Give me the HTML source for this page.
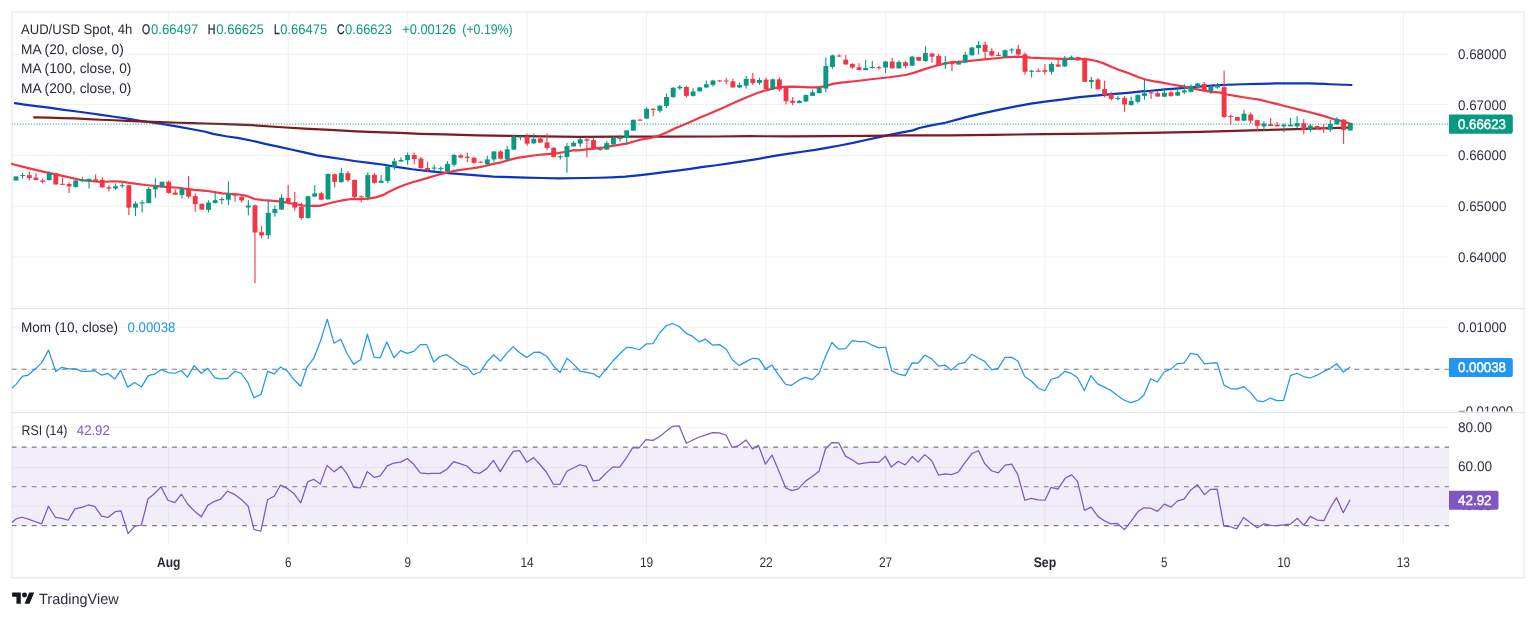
<!DOCTYPE html>
<html><head><meta charset="utf-8"><title>AUD/USD 4h</title>
<style>html,body{margin:0;padding:0;background:#fff}body{width:1536px;height:618px;position:relative;overflow:hidden;font-family:"Liberation Sans",sans-serif}</style></head>
<body>
<svg width="1536" height="618" viewBox="0 0 1536 618" style="position:absolute;left:0;top:0;font-family:'Liberation Sans',sans-serif">
<style>text{text-rendering:geometricPrecision}</style>
<rect width="1536" height="618" fill="#fff"/>
<rect x="12" y="447.1" width="1437" height="78.5" fill="#7E57C2" fill-opacity="0.105"/>
<g stroke="#2A2E39" stroke-opacity="0.065" stroke-width="1">
<line x1="168.67" y1="12" x2="168.67" y2="545"/>
<line x1="288.16" y1="12" x2="288.16" y2="545"/>
<line x1="407.64" y1="12" x2="407.64" y2="545"/>
<line x1="527.13" y1="12" x2="527.13" y2="545"/>
<line x1="646.61" y1="12" x2="646.61" y2="545"/>
<line x1="766.09" y1="12" x2="766.09" y2="545"/>
<line x1="885.58" y1="12" x2="885.58" y2="545"/>
<line x1="1044.89" y1="12" x2="1044.89" y2="545"/>
<line x1="1164.37" y1="12" x2="1164.37" y2="545"/>
<line x1="1283.86" y1="12" x2="1283.86" y2="545"/>
<line x1="1403.34" y1="12" x2="1403.34" y2="545"/>
<line x1="12" y1="54.4" x2="1449" y2="54.4"/>
<line x1="12" y1="104.5" x2="1449" y2="104.5"/>
<line x1="12" y1="155.3" x2="1449" y2="155.3"/>
<line x1="12" y1="206.1" x2="1449" y2="206.1"/>
<line x1="12" y1="257" x2="1449" y2="257"/>
<line x1="12" y1="327.3" x2="1449" y2="327.3"/>
<line x1="12" y1="369.2" x2="1449" y2="369.2"/>
<line x1="12" y1="427.5" x2="1449" y2="427.5"/>
<line x1="12" y1="467.5" x2="1449" y2="467.5"/>
<line x1="12" y1="506" x2="1449" y2="506"/>
</g>
<g stroke="#E0E3EB" stroke-width="1" fill="none">
<line x1="12" y1="308.5" x2="1524" y2="308.5"/>
<line x1="12" y1="412.5" x2="1524" y2="412.5"/>
<rect x="12" y="12" width="1512" height="565.8"/>
</g>
<g fill="none" stroke-linejoin="round" stroke-linecap="round" stroke-width="2.2">
<polyline stroke="#0A35C2" points="14.95,103.07 23.02,104.38 36.04,106.07 49.06,107.63 62.08,109.58 75.1,111.28 88.12,112.97 101.15,114.92 114.17,116.74 127.19,118.7 140.21,120.78 153.23,122.73 166.25,124.69 179.27,126.9 192.29,129.24 205.31,131.72 213.02,133.88 226.04,136.22 239.06,138.18 252.08,140.78 265.1,143.91 278.12,146.64 291.15,149.51 304.17,152.37 317.19,155.36 330.21,157.32 343.23,159.27 356.25,161.22 369.27,162.92 382.29,164.48 396.18,166.83 412.36,169.26 428.54,171.2 444.72,172.82 460.91,174.11 477.09,175.4 493.27,176.54 509.45,177.18 525.63,177.67 541.81,177.99 557.99,178.32 586.04,177.99 599.06,177.73 612.08,177.34 625.1,176.69 638.12,175.39 651.15,173.83 664.17,172.14 677.19,170.57 690.21,168.88 703.23,166.93 716.25,165.23 729.27,163.41 742.29,161.46 755.31,159.38 776.04,155.62 789.06,153.67 802.08,151.72 815.1,149.9 828.12,147.55 841.15,145.21 854.17,142.6 867.19,139.74 880.21,136.88 893.23,134.14 906.25,131.67 912.76,130.36 919.27,128.02 932.29,125.16 945.31,122.81 966.18,117.09 982.36,113.37 998.54,109.81 1014.72,106.57 1030.91,103.66 1047.09,101.39 1063.27,99.29 1079.45,97.18 1095.63,95.57 1111.81,94.11 1127.99,92.82 1144.17,91.2 1146.18,91.23 1162.36,89.61 1178.54,88.32 1194.72,87.02 1210.91,85.57 1227.09,84.76 1243.27,84.27 1259.45,83.79 1275.63,83.46 1291.81,83.3 1307.99,83.46 1324.17,83.95 1330,84.27 1351.5,85"/>
<polyline stroke="#801922" points="34.09,117.4 49.06,117.66 62.08,118.18 75.1,118.44 88.12,119.09 101.15,119.74 114.17,120.26 127.19,120.78 140.21,121.43 153.23,121.95 166.25,122.34 179.27,122.73 192.29,123.12 205.31,123.52 226.04,124.11 252.08,125.16 278.12,126.98 304.17,128.67 330.21,129.97 356.25,131.28 382.29,132.32 400,132.84 420.45,133.82 444.72,134.47 477.09,135.28 509.45,135.92 541.81,136.41 580,136.89 618.54,136.67 667.09,136.67 715.63,136.5 750,136.22 789.06,136.35 828.12,136.22 867.19,135.83 906.25,135.44 950,135.31 992,134.8 1044,134.2 1096,133.6 1148,132.9 1200,131.9 1252,130.4 1304,128.8 1340,127.8 1351.5,127.5"/>
<polyline stroke="#F23645" points="12,163.8 12.94,164.27 32.36,169.13 48.54,172.85 64.72,176.41 80.91,179.97 97.09,181.75 105.18,181.75 113.27,181.26 121.36,181.59 129.45,182.88 145.63,184.98 161.81,186.6 177.99,187.73 194.17,189.84 206.18,190.78 222.36,193.37 238.54,194.5 246.63,195.79 254.72,199.03 262.82,200.16 270.91,200.65 279,201.46 287.09,202.59 295.18,204.21 303.27,205.5 311.36,205.83 319.45,205.83 327.54,203.72 335.63,201.78 343.72,200.16 351.81,199.03 359.9,199.03 367.99,198.54 376.08,197.41 384.17,194.5 388.09,192.23 396.18,188.19 404.27,184.95 412.36,182.2 420.45,180.1 428.54,177.67 436.63,175.24 444.72,173.14 452.82,171.2 460.91,169.9 469,168.77 477.09,167.64 485.18,166.02 493.27,163.92 501.36,162.3 509.45,159.87 517.54,157.93 525.63,156.63 533.72,155.5 541.81,154.53 549.9,153.88 557.99,153.07 566.08,151.78 574.17,150.16 578.09,150.42 586.18,149.29 602.36,147.67 618.54,144.92 626.63,143.62 634.72,141.2 642.82,139.26 650.91,137.96 659,135.53 667.09,132.3 675.18,128.25 683.27,125.02 691.36,121.46 699.45,117.73 707.54,114.5 715.63,110.94 723.72,107.54 731.81,103.66 739.9,100.26 747.99,96.7 756.08,93.46 764.17,90.71 768.09,89.87 776.18,87.93 784.27,86.8 792.36,86.63 800.45,86.96 808.54,87.28 816.63,87.44 824.72,86.31 832.82,83.88 840.91,82.59 857.09,80.97 873.27,79.03 889.45,77.25 905.63,74.98 913.72,72.88 921.81,70.13 929.9,67.54 937.99,65.28 946.08,63.17 954.17,61.88 958.09,62.07 966.18,61.26 982.36,59.64 998.54,58.03 1006.63,57.22 1014.72,56.89 1022.82,56.89 1030.91,57.54 1047.09,58.35 1063.27,58.83 1079.45,58.83 1087.54,59.32 1095.63,60.78 1103.72,63.37 1111.81,66.93 1119.9,70.16 1127.99,73.07 1136.08,76.15 1138.09,76.99 1146.18,79.74 1154.27,81.36 1162.36,82.65 1170.45,84.27 1178.54,85.57 1186.63,87.18 1194.72,88.8 1202.82,90.42 1210.91,91.88 1219,92.36 1227.09,94.47 1235.18,95.92 1243.27,97.22 1251.36,98.51 1259.45,99.64 1267.54,101.75 1275.63,103.69 1283.72,105.79 1291.81,107.73 1299.9,109.84 1307.99,111.78 1316.08,113.88 1324.17,116.15 1332.36,118.8 1340.45,120.74 1348.54,123.17 1351.78,123.98"/>
</g>
<line x1="12" y1="124.2" x2="1449" y2="124.2" stroke="#089981" stroke-width="1.3" stroke-opacity="0.82" stroke-dasharray="1.05 1.7" stroke-dashoffset="0.4"/>
<g fill="#089981"><rect x="15.45" y="176.41" width="1.1" height="4.05"/><rect x="22.09" y="172.85" width="1.1" height="5.66"/><rect x="48.64" y="171.55" width="1.1" height="8.9"/><rect x="75.19" y="180.13" width="1.1" height="7.61"/><rect x="81.83" y="177.22" width="1.1" height="4.53"/><rect x="88.47" y="178.83" width="1.1" height="9.71"/><rect x="115.02" y="183.37" width="1.1" height="6.47"/><rect x="121.66" y="182.88" width="1.1" height="5.18"/><rect x="134.93" y="201.49" width="1.1" height="14.56"/><rect x="141.57" y="200.19" width="1.1" height="12.3"/><rect x="148.21" y="186.93" width="1.1" height="16.18"/><rect x="154.85" y="178.03" width="1.1" height="19.9"/><rect x="161.49" y="181.75" width="1.1" height="4.85"/><rect x="181.4" y="187.25" width="1.1" height="11.33"/><rect x="207.95" y="200.16" width="1.1" height="12.14"/><rect x="214.59" y="192.39" width="1.1" height="11"/><rect x="221.23" y="196.93" width="1.1" height="7.28"/><rect x="227.87" y="181.23" width="1.1" height="23.79"/><rect x="247.78" y="200.16" width="1.1" height="15.05"/><rect x="267.69" y="200.16" width="1.1" height="38.83"/><rect x="274.33" y="205.34" width="1.1" height="11.33"/><rect x="280.97" y="194.17" width="1.1" height="15.7"/><rect x="307.52" y="195.79" width="1.1" height="22.98"/><rect x="314.16" y="185.11" width="1.1" height="11.81"/><rect x="327.44" y="173.46" width="1.1" height="26.21"/><rect x="340.71" y="167.8" width="1.1" height="15.05"/><rect x="367.26" y="172.33" width="1.1" height="28.16"/><rect x="380.54" y="175.08" width="1.1" height="7.77"/><rect x="387.18" y="165.53" width="1.1" height="17.48"/><rect x="393.82" y="158.25" width="1.1" height="11.33"/><rect x="400.45" y="157.44" width="1.1" height="4.37"/><rect x="407.09" y="152.59" width="1.1" height="12.14"/><rect x="433.64" y="164.72" width="1.1" height="6.47"/><rect x="440.28" y="166.34" width="1.1" height="4.85"/><rect x="446.92" y="161.17" width="1.1" height="10.84"/><rect x="453.56" y="153.88" width="1.1" height="12.78"/><rect x="486.75" y="155.83" width="1.1" height="10.03"/><rect x="493.39" y="150.97" width="1.1" height="11.33"/><rect x="506.66" y="145.79" width="1.1" height="14.89"/><rect x="513.3" y="135.28" width="1.1" height="14.56"/><rect x="519.94" y="135.92" width="1.1" height="4.21"/><rect x="533.21" y="133.66" width="1.1" height="10.03"/><rect x="559.77" y="154.53" width="1.1" height="5.02"/><rect x="566.4" y="142.88" width="1.1" height="29.94"/><rect x="573.04" y="141.2" width="1.1" height="5.18"/><rect x="579.68" y="137.96" width="1.1" height="9.39"/><rect x="599.59" y="147.99" width="1.1" height="2.91"/><rect x="606.23" y="141.2" width="1.1" height="8.58"/><rect x="612.87" y="136.34" width="1.1" height="8.41"/><rect x="619.51" y="134.72" width="1.1" height="6.96"/><rect x="626.15" y="130.19" width="1.1" height="13.43"/><rect x="632.78" y="119.35" width="1.1" height="11.33"/><rect x="646.06" y="107.22" width="1.1" height="11.65"/><rect x="659.34" y="105.28" width="1.1" height="7.28"/><rect x="665.97" y="93.46" width="1.1" height="14.56"/><rect x="672.61" y="86.99" width="1.1" height="10.52"/><rect x="679.25" y="84.89" width="1.1" height="5.02"/><rect x="692.53" y="88.12" width="1.1" height="8.58"/><rect x="699.16" y="87.31" width="1.1" height="4.05"/><rect x="705.8" y="80.52" width="1.1" height="7.28"/><rect x="712.44" y="79.71" width="1.1" height="6.96"/><rect x="738.99" y="82.46" width="1.1" height="5.34"/><rect x="745.63" y="75.99" width="1.1" height="12.62"/><rect x="758.91" y="77.77" width="1.1" height="7.12"/><rect x="772.18" y="78.54" width="1.1" height="11"/><rect x="798.73" y="99.9" width="1.1" height="3.24"/><rect x="805.37" y="94.4" width="1.1" height="7.28"/><rect x="812.01" y="89.55" width="1.1" height="6.31"/><rect x="818.65" y="86.96" width="1.1" height="6.47"/><rect x="825.29" y="57.51" width="1.1" height="34.79"/><rect x="831.92" y="54.6" width="1.1" height="14.24"/><rect x="865.11" y="59.94" width="1.1" height="10.19"/><rect x="871.75" y="61.07" width="1.1" height="7.28"/><rect x="885.03" y="61.07" width="1.1" height="11.81"/><rect x="898.3" y="60.26" width="1.1" height="8.25"/><rect x="911.58" y="55.89" width="1.1" height="10.03"/><rect x="924.86" y="46.18" width="1.1" height="15.7"/><rect x="944.77" y="55.89" width="1.1" height="12.94"/><rect x="958.05" y="60.13" width="1.1" height="4.37"/><rect x="964.68" y="52.04" width="1.1" height="10.84"/><rect x="971.32" y="46.7" width="1.1" height="8.9"/><rect x="977.96" y="41.04" width="1.1" height="13.43"/><rect x="1004.51" y="49.45" width="1.1" height="8.58"/><rect x="1011.15" y="47.83" width="1.1" height="5.83"/><rect x="1031.06" y="69.84" width="1.1" height="7.61"/><rect x="1050.98" y="62.07" width="1.1" height="12.62"/><rect x="1064.25" y="55.92" width="1.1" height="11"/><rect x="1070.89" y="55.6" width="1.1" height="4.53"/><rect x="1090.81" y="76.96" width="1.1" height="11.49"/><rect x="1117.36" y="96.05" width="1.1" height="4.37"/><rect x="1130.63" y="96.54" width="1.1" height="9.22"/><rect x="1137.27" y="93.98" width="1.1" height="9.39"/><rect x="1143.91" y="79.42" width="1.1" height="20.23"/><rect x="1163.82" y="88.32" width="1.1" height="8.58"/><rect x="1177.1" y="88.32" width="1.1" height="7.61"/><rect x="1183.74" y="84.27" width="1.1" height="10.03"/><rect x="1190.38" y="84.27" width="1.1" height="8.09"/><rect x="1197.01" y="83.14" width="1.1" height="3.88"/><rect x="1210.29" y="85.57" width="1.1" height="8.41"/><rect x="1216.93" y="82.98" width="1.1" height="5.83"/><rect x="1243.48" y="109.84" width="1.1" height="11.17"/><rect x="1263.39" y="121.17" width="1.1" height="9.71"/><rect x="1283.31" y="123.59" width="1.1" height="8.74"/><rect x="1289.95" y="117.93" width="1.1" height="8.41"/><rect x="1296.58" y="116.15" width="1.1" height="12.3"/><rect x="1309.86" y="123.98" width="1.1" height="7.77"/><rect x="1329.77" y="119.94" width="1.1" height="11.81"/><rect x="1336.41" y="117.18" width="1.1" height="7.61"/><rect x="1349.69" y="123.17" width="1.1" height="7.28"/><rect x="13.55" y="176.41" width="4.9" height="4.05"/><rect x="20.19" y="175.02" width="4.9" height="1"/><rect x="46.74" y="173.17" width="4.9" height="6.96"/><rect x="73.29" y="180.45" width="4.9" height="6.47"/><rect x="79.93" y="179.81" width="4.9" height="1.46"/><rect x="86.57" y="178.83" width="4.9" height="2.75"/><rect x="113.12" y="186.28" width="4.9" height="2.27"/><rect x="119.76" y="185.21" width="4.9" height="1"/><rect x="133.03" y="203.59" width="4.9" height="4.05"/><rect x="139.67" y="202.3" width="4.9" height="1.13"/><rect x="146.31" y="189.03" width="4.9" height="14.08"/><rect x="152.95" y="186.44" width="4.9" height="2.91"/><rect x="159.59" y="181.75" width="4.9" height="4.85"/><rect x="179.5" y="189.03" width="4.9" height="5.99"/><rect x="206.05" y="202.59" width="4.9" height="7.28"/><rect x="212.69" y="200.16" width="4.9" height="2.91"/><rect x="219.33" y="199.03" width="4.9" height="1.13"/><rect x="225.97" y="193.37" width="4.9" height="6.31"/><rect x="245.88" y="205.5" width="4.9" height="1.94"/><rect x="265.79" y="212.78" width="4.9" height="22.49"/><rect x="272.43" y="209.06" width="4.9" height="4.05"/><rect x="279.07" y="197.73" width="4.9" height="11.81"/><rect x="305.62" y="196.28" width="4.9" height="21.68"/><rect x="312.26" y="193.37" width="4.9" height="3.24"/><rect x="325.54" y="173.95" width="4.9" height="25.4"/><rect x="338.81" y="173.14" width="4.9" height="8.9"/><rect x="365.36" y="175.08" width="4.9" height="22.17"/><rect x="378.64" y="180.74" width="4.9" height="2.1"/><rect x="385.28" y="166.34" width="4.9" height="14.56"/><rect x="391.92" y="161.17" width="4.9" height="5.66"/><rect x="398.55" y="159.87" width="4.9" height="1.62"/><rect x="405.19" y="155.02" width="4.9" height="5.18"/><rect x="431.74" y="167.54" width="4.9" height="1"/><rect x="438.38" y="167.95" width="4.9" height="1"/><rect x="445.02" y="163.92" width="4.9" height="7.77"/><rect x="451.66" y="155.02" width="4.9" height="9.71"/><rect x="484.85" y="159.39" width="4.9" height="4.85"/><rect x="491.49" y="151.46" width="4.9" height="7.93"/><rect x="504.76" y="149.35" width="4.9" height="10.03"/><rect x="511.4" y="136.41" width="4.9" height="13.27"/><rect x="518.04" y="136.56" width="4.9" height="1"/><rect x="531.31" y="138.83" width="4.9" height="4.53"/><rect x="557.87" y="156.3" width="4.9" height="1"/><rect x="564.5" y="146.12" width="4.9" height="10.84"/><rect x="571.14" y="142.82" width="4.9" height="3.56"/><rect x="577.78" y="139.26" width="4.9" height="4.37"/><rect x="597.69" y="148.87" width="4.9" height="1"/><rect x="604.33" y="143.14" width="4.9" height="6.47"/><rect x="610.97" y="137.96" width="4.9" height="6.47"/><rect x="617.61" y="137.95" width="4.9" height="1"/><rect x="624.25" y="130.36" width="4.9" height="7.61"/><rect x="630.88" y="119.84" width="4.9" height="10.84"/><rect x="644.16" y="108.83" width="4.9" height="9.71"/><rect x="657.44" y="105.6" width="4.9" height="5.18"/><rect x="664.07" y="97.02" width="4.9" height="8.9"/><rect x="670.71" y="87.8" width="4.9" height="9.39"/><rect x="677.35" y="86.67" width="4.9" height="1.62"/><rect x="690.63" y="91.52" width="4.9" height="4.37"/><rect x="697.26" y="87.31" width="4.9" height="4.05"/><rect x="703.9" y="84.24" width="4.9" height="3.24"/><rect x="710.54" y="80.52" width="4.9" height="4.37"/><rect x="737.09" y="85.05" width="4.9" height="2.43"/><rect x="743.73" y="78.9" width="4.9" height="6.8"/><rect x="757.01" y="80.03" width="4.9" height="2.91"/><rect x="770.28" y="79.35" width="4.9" height="9.71"/><rect x="796.83" y="100.87" width="4.9" height="2.27"/><rect x="803.47" y="95.05" width="4.9" height="6.47"/><rect x="810.11" y="92.3" width="4.9" height="3.56"/><rect x="816.75" y="87.93" width="4.9" height="5.18"/><rect x="823.39" y="65.92" width="4.9" height="22.65"/><rect x="830.02" y="55.4" width="4.9" height="11.49"/><rect x="863.21" y="68.03" width="4.9" height="2.1"/><rect x="869.85" y="66.89" width="4.9" height="1.13"/><rect x="883.13" y="61.55" width="4.9" height="5.99"/><rect x="896.4" y="62.04" width="4.9" height="6.31"/><rect x="909.68" y="56.7" width="4.9" height="8.9"/><rect x="922.96" y="52.98" width="4.9" height="8.09"/><rect x="942.87" y="62.85" width="4.9" height="1.62"/><rect x="956.15" y="62.39" width="4.9" height="2.1"/><rect x="962.78" y="54.79" width="4.9" height="7.77"/><rect x="969.42" y="47.51" width="4.9" height="7.77"/><rect x="976.06" y="45.08" width="4.9" height="2.91"/><rect x="1002.61" y="50.26" width="4.9" height="6.63"/><rect x="1009.25" y="49.44" width="4.9" height="1"/><rect x="1029.16" y="70.65" width="4.9" height="1.13"/><rect x="1049.08" y="64.01" width="4.9" height="7.77"/><rect x="1062.35" y="59.16" width="4.9" height="7.28"/><rect x="1068.99" y="57.22" width="4.9" height="2.59"/><rect x="1088.91" y="79.87" width="4.9" height="2.1"/><rect x="1115.46" y="97.98" width="4.9" height="1"/><rect x="1128.73" y="100.91" width="4.9" height="4.05"/><rect x="1135.37" y="95.11" width="4.9" height="6.63"/><rect x="1142.01" y="93.17" width="4.9" height="2.75"/><rect x="1161.92" y="92.69" width="4.9" height="4.05"/><rect x="1175.2" y="92.04" width="4.9" height="3.56"/><rect x="1181.84" y="90.42" width="4.9" height="1.94"/><rect x="1188.48" y="86.38" width="4.9" height="5.5"/><rect x="1195.11" y="83.46" width="4.9" height="3.56"/><rect x="1208.39" y="86.7" width="4.9" height="4.37"/><rect x="1215.03" y="85.08" width="4.9" height="2.43"/><rect x="1241.58" y="113.72" width="4.9" height="6.96"/><rect x="1261.49" y="123.59" width="4.9" height="2.75"/><rect x="1281.41" y="124.72" width="4.9" height="1.62"/><rect x="1288.05" y="124.72" width="4.9" height="1.62"/><rect x="1294.68" y="123.11" width="4.9" height="3.24"/><rect x="1307.96" y="125.6" width="4.9" height="4.37"/><rect x="1327.87" y="123.98" width="4.9" height="5.66"/><rect x="1334.51" y="119.13" width="4.9" height="5.18"/><rect x="1347.79" y="123.98" width="4.9" height="6.47"/></g>
<g fill="#F23645"><rect x="28.73" y="171.55" width="1.1" height="8.9"/><rect x="35.36" y="173.17" width="1.1" height="6.96"/><rect x="42" y="178.83" width="1.1" height="4.53"/><rect x="55.28" y="173.17" width="1.1" height="11.33"/><rect x="61.92" y="177.54" width="1.1" height="7.12"/><rect x="68.55" y="182.39" width="1.1" height="10.68"/><rect x="95.11" y="174.3" width="1.1" height="7.44"/><rect x="101.74" y="177.22" width="1.1" height="10.52"/><rect x="108.38" y="185.31" width="1.1" height="6.15"/><rect x="128.3" y="184.98" width="1.1" height="30.26"/><rect x="168.12" y="180.45" width="1.1" height="13.43"/><rect x="174.76" y="189.35" width="1.1" height="5.34"/><rect x="188.04" y="175.92" width="1.1" height="22.65"/><rect x="194.68" y="193.37" width="1.1" height="18.45"/><rect x="201.31" y="203.72" width="1.1" height="6.15"/><rect x="234.5" y="193.37" width="1.1" height="8.41"/><rect x="241.14" y="195.31" width="1.1" height="7.28"/><rect x="254.42" y="204.69" width="1.1" height="78.32"/><rect x="261.06" y="226.05" width="1.1" height="12.14"/><rect x="287.61" y="184.79" width="1.1" height="17.8"/><rect x="294.25" y="191.75" width="1.1" height="18.93"/><rect x="300.88" y="202.59" width="1.1" height="16.99"/><rect x="320.8" y="191.75" width="1.1" height="8.74"/><rect x="334.07" y="173.46" width="1.1" height="14.08"/><rect x="347.35" y="171.04" width="1.1" height="10.84"/><rect x="353.99" y="179.61" width="1.1" height="18.93"/><rect x="360.63" y="195.31" width="1.1" height="6.96"/><rect x="373.9" y="173.14" width="1.1" height="10.52"/><rect x="413.73" y="152.59" width="1.1" height="11.33"/><rect x="420.37" y="156.96" width="1.1" height="13.43"/><rect x="427.01" y="161.81" width="1.1" height="10.19"/><rect x="460.2" y="154.21" width="1.1" height="4.37"/><rect x="466.83" y="152.59" width="1.1" height="9.71"/><rect x="473.47" y="156.96" width="1.1" height="6.96"/><rect x="480.11" y="161.17" width="1.1" height="1.62"/><rect x="500.02" y="150.16" width="1.1" height="9.22"/><rect x="526.58" y="133.66" width="1.1" height="12.14"/><rect x="539.85" y="135.92" width="1.1" height="6.96"/><rect x="546.49" y="133.66" width="1.1" height="16.5"/><rect x="553.13" y="147.25" width="1.1" height="10.19"/><rect x="586.32" y="137.15" width="1.1" height="20.23"/><rect x="592.96" y="137.96" width="1.1" height="11.33"/><rect x="639.42" y="118.87" width="1.1" height="1.78"/><rect x="652.7" y="108.03" width="1.1" height="8.09"/><rect x="685.89" y="86.18" width="1.1" height="11.33"/><rect x="719.08" y="80.03" width="1.1" height="1.78"/><rect x="725.72" y="77.77" width="1.1" height="6.47"/><rect x="732.35" y="78.9" width="1.1" height="8.58"/><rect x="752.27" y="72.91" width="1.1" height="12.14"/><rect x="765.54" y="77.73" width="1.1" height="12.14"/><rect x="778.82" y="77.41" width="1.1" height="14.08"/><rect x="785.46" y="87.44" width="1.1" height="16.99"/><rect x="792.1" y="97.15" width="1.1" height="8.09"/><rect x="838.56" y="54.27" width="1.1" height="2.43"/><rect x="845.2" y="55.08" width="1.1" height="9.71"/><rect x="851.84" y="63.17" width="1.1" height="5.66"/><rect x="858.48" y="63.17" width="1.1" height="6.96"/><rect x="878.39" y="65.92" width="1.1" height="3.72"/><rect x="891.67" y="57.83" width="1.1" height="10.68"/><rect x="904.94" y="61.07" width="1.1" height="7.44"/><rect x="918.22" y="57.02" width="1.1" height="3.72"/><rect x="931.49" y="53.14" width="1.1" height="9.71"/><rect x="938.13" y="53.95" width="1.1" height="11.97"/><rect x="951.41" y="63.17" width="1.1" height="8.09"/><rect x="984.6" y="41.84" width="1.1" height="17.48"/><rect x="991.24" y="48.32" width="1.1" height="8.09"/><rect x="997.87" y="52.36" width="1.1" height="3.56"/><rect x="1017.79" y="44.6" width="1.1" height="11"/><rect x="1024.43" y="52.36" width="1.1" height="22.33"/><rect x="1037.7" y="68.54" width="1.1" height="3.24"/><rect x="1044.34" y="64.01" width="1.1" height="10.68"/><rect x="1057.62" y="59.64" width="1.1" height="6.96"/><rect x="1077.53" y="56.89" width="1.1" height="3.56"/><rect x="1084.17" y="57.54" width="1.1" height="24.27"/><rect x="1097.44" y="77.93" width="1.1" height="11.65"/><rect x="1104.08" y="80.68" width="1.1" height="16.67"/><rect x="1110.72" y="91.68" width="1.1" height="8.74"/><rect x="1124" y="96.05" width="1.1" height="15.7"/><rect x="1150.55" y="91.55" width="1.1" height="7.28"/><rect x="1157.19" y="90.74" width="1.1" height="5.83"/><rect x="1170.46" y="90.74" width="1.1" height="6.15"/><rect x="1203.65" y="81.84" width="1.1" height="8.9"/><rect x="1223.57" y="70.52" width="1.1" height="47.41"/><rect x="1230.2" y="114.53" width="1.1" height="10.19"/><rect x="1236.84" y="117.12" width="1.1" height="3.56"/><rect x="1250.12" y="112.59" width="1.1" height="10.84"/><rect x="1256.76" y="119.87" width="1.1" height="11.33"/><rect x="1270.03" y="117.93" width="1.1" height="8.09"/><rect x="1276.67" y="121.81" width="1.1" height="4.53"/><rect x="1303.22" y="119.13" width="1.1" height="15.37"/><rect x="1316.5" y="125.92" width="1.1" height="2.91"/><rect x="1323.14" y="124.3" width="1.1" height="8.58"/><rect x="1343.05" y="119.13" width="1.1" height="24.76"/><rect x="26.83" y="175.11" width="4.9" height="2.91"/><rect x="33.46" y="177.54" width="4.9" height="2.43"/><rect x="40.1" y="180.45" width="4.9" height="1.29"/><rect x="53.38" y="173.17" width="4.9" height="11.33"/><rect x="60.02" y="183.84" width="4.9" height="1"/><rect x="66.65" y="184.01" width="4.9" height="2.43"/><rect x="93.21" y="179.32" width="4.9" height="1.94"/><rect x="99.84" y="179.97" width="4.9" height="7.44"/><rect x="106.48" y="187.25" width="4.9" height="1.29"/><rect x="126.4" y="185.31" width="4.9" height="22.33"/><rect x="166.22" y="181.75" width="4.9" height="11.17"/><rect x="172.86" y="192.59" width="4.9" height="2.1"/><rect x="186.14" y="188.54" width="4.9" height="8.09"/><rect x="192.78" y="196.12" width="4.9" height="8.09"/><rect x="199.41" y="203.72" width="4.9" height="5.83"/><rect x="232.6" y="193.69" width="4.9" height="1.94"/><rect x="239.24" y="196.93" width="4.9" height="3.56"/><rect x="252.52" y="205.34" width="4.9" height="27.18"/><rect x="259.16" y="232.2" width="4.9" height="3.24"/><rect x="285.71" y="198.06" width="4.9" height="4.05"/><rect x="292.35" y="202.1" width="4.9" height="5.5"/><rect x="298.98" y="206.63" width="4.9" height="11.33"/><rect x="318.9" y="193.37" width="4.9" height="6.31"/><rect x="332.17" y="174.27" width="4.9" height="7.61"/><rect x="345.45" y="173.14" width="4.9" height="7.12"/><rect x="352.09" y="179.94" width="4.9" height="16.99"/><rect x="358.73" y="196.26" width="4.9" height="1"/><rect x="372" y="174.76" width="4.9" height="8.09"/><rect x="411.83" y="155.02" width="4.9" height="4.05"/><rect x="418.47" y="158.58" width="4.9" height="9.39"/><rect x="425.11" y="167.96" width="4.9" height="1.94"/><rect x="458.3" y="155.34" width="4.9" height="2.27"/><rect x="464.93" y="156.63" width="4.9" height="1.29"/><rect x="471.57" y="157.77" width="4.9" height="5.02"/><rect x="478.21" y="161.72" width="4.9" height="1"/><rect x="498.12" y="151.46" width="4.9" height="7.28"/><rect x="524.68" y="136.41" width="4.9" height="7.28"/><rect x="537.95" y="138.51" width="4.9" height="4.05"/><rect x="544.59" y="142.39" width="4.9" height="5.66"/><rect x="551.23" y="147.73" width="4.9" height="9.22"/><rect x="584.42" y="139.26" width="4.9" height="1.46"/><rect x="591.06" y="140.06" width="4.9" height="9.22"/><rect x="637.52" y="119.66" width="4.9" height="1"/><rect x="650.8" y="108.82" width="4.9" height="1"/><rect x="683.99" y="86.99" width="4.9" height="8.9"/><rect x="717.18" y="80.42" width="4.9" height="1"/><rect x="723.82" y="80.5" width="4.9" height="1"/><rect x="730.45" y="81.33" width="4.9" height="6.15"/><rect x="750.37" y="78.9" width="4.9" height="4.05"/><rect x="763.64" y="79.68" width="4.9" height="9.39"/><rect x="776.92" y="79.35" width="4.9" height="10.19"/><rect x="783.56" y="87.93" width="4.9" height="13.27"/><rect x="790.2" y="100.71" width="4.9" height="2.1"/><rect x="836.66" y="55.55" width="4.9" height="1"/><rect x="843.3" y="59.61" width="4.9" height="4.85"/><rect x="849.94" y="63.98" width="4.9" height="3.56"/><rect x="856.58" y="67.22" width="4.9" height="2.75"/><rect x="876.49" y="67.2" width="4.9" height="1"/><rect x="889.77" y="61.55" width="4.9" height="6.8"/><rect x="903.04" y="62.36" width="4.9" height="3.56"/><rect x="916.32" y="57.02" width="4.9" height="3.72"/><rect x="929.59" y="53.46" width="4.9" height="3.24"/><rect x="936.23" y="55.89" width="4.9" height="9.39"/><rect x="949.51" y="63.08" width="4.9" height="1"/><rect x="982.7" y="44.76" width="4.9" height="7.12"/><rect x="989.34" y="51.07" width="4.9" height="4.53"/><rect x="995.97" y="54.94" width="4.9" height="1"/><rect x="1015.89" y="49.13" width="4.9" height="5.34"/><rect x="1022.53" y="54.3" width="4.9" height="17.48"/><rect x="1035.8" y="70.65" width="4.9" height="1.13"/><rect x="1042.44" y="70.16" width="4.9" height="1.62"/><rect x="1055.72" y="64.5" width="4.9" height="2.1"/><rect x="1075.63" y="57.22" width="4.9" height="3.24"/><rect x="1082.27" y="58.83" width="4.9" height="22.98"/><rect x="1095.54" y="79.55" width="4.9" height="9.71"/><rect x="1102.18" y="89.09" width="4.9" height="6.15"/><rect x="1108.82" y="94.11" width="4.9" height="4.69"/><rect x="1122.1" y="98.16" width="4.9" height="6.31"/><rect x="1148.65" y="92.36" width="4.9" height="1.13"/><rect x="1155.29" y="93.17" width="4.9" height="3.4"/><rect x="1168.56" y="92.36" width="4.9" height="3.56"/><rect x="1201.75" y="83.95" width="4.9" height="5.99"/><rect x="1221.67" y="87.18" width="4.9" height="29.77"/><rect x="1228.3" y="115.83" width="4.9" height="1.13"/><rect x="1234.94" y="117.12" width="4.9" height="3.56"/><rect x="1248.22" y="114.53" width="4.9" height="6.15"/><rect x="1254.86" y="120.19" width="4.9" height="5.66"/><rect x="1268.13" y="124.24" width="4.9" height="1.78"/><rect x="1274.77" y="124.72" width="4.9" height="1.62"/><rect x="1301.32" y="123.17" width="4.9" height="6.47"/><rect x="1314.6" y="125.92" width="4.9" height="2.91"/><rect x="1321.24" y="127.93" width="4.9" height="1"/><rect x="1341.15" y="119.61" width="4.9" height="10.36"/></g>
<line x1="12" y1="369.2" x2="1449" y2="369.2" stroke="#787B86" stroke-width="1.05" stroke-dasharray="4.8 5.22" stroke-dashoffset="0.3"/>
<polyline fill="none" stroke="#2196F3" stroke-width="1.25" stroke-linejoin="round" points="12,388.02 16.04,384.37 22.6,376.17 27.89,375.26 35.91,368.33 41.56,362.86 48.49,350.1 55.78,371.43 61.43,367.42 68.36,368.88 75.83,368.88 81.66,371.43 88.95,371.43 94.79,370.7 101.53,375.07 108.09,373.43 114.84,378.9 120.67,370.15 127.6,387.11 134.52,382.55 141.45,386.92 148.38,375.62 154.58,374.16 161.14,369.61 168.06,372.52 174.99,373.25 181.37,370.7 187.39,377.08 194.13,365.6 201.24,373.25 207.8,368.33 214.73,377.81 221.11,378.9 227.49,378.36 234.6,371.43 241.16,373.25 247.9,382.55 253.92,397.86 261.03,394.21 267.59,371.43 274.33,373.8 280.39,367.05 286.95,370.7 293.7,379.27 300.62,386.19 307.37,366.51 313.75,358.3 320.49,340.99 327.24,319.11 333.98,343.18 340.73,339.17 347.11,353.75 353.49,364.14 360.59,359.76 367.34,334.24 374.08,357.03 380.1,357.76 386.84,341.9 393.95,357.76 400.51,350.65 407.26,353.38 413.64,351.38 420.38,344.63 426.76,344.63 433.69,361.95 440.07,356.48 446.45,354.66 453.56,359.58 460.48,364.68 467.23,367.05 473.24,374.71 480.17,371.98 486.55,362.31 493.66,355.02 500.4,361.04 506.6,353.38 512.98,346.82 519.73,352.84 526.65,357.39 533.76,352.47 539.78,352.11 546.93,356.48 553.67,366.14 560.05,372.52 566.98,358.3 573.36,364.14 580.1,371.06 586.85,372.34 593.41,373.8 599.24,377.44 606.53,368.69 612.91,361.04 619.84,353.75 626.58,347.37 632.6,347.73 639.34,349.74 646.27,343.9 653.01,343.54 659.76,332.79 666.14,325.86 672.52,323.49 679.45,326.77 686.19,333.33 692.75,336.43 699.13,341.9 705.51,339.17 712.8,345.18 719.55,344.63 726.29,349.19 732.31,359.76 739.05,365.6 745.98,361.59 752.72,358.3 758.74,358.85 765.67,368.88 772.05,365.05 778.79,375.07 785.72,384.37 791.55,385.28 798.84,380.18 805.4,377.44 812.33,379.63 819.11,372.89 825.49,356.48 831.87,342.45 838.8,349.19 845.55,348.64 852.29,340.62 858.85,341.53 865.23,341.53 871.98,345.18 878.9,347.91 885.65,347 891.66,370.7 898.41,374.16 905.15,375.62 912.08,362.86 918.09,363.23 924.84,355.21 931.76,358.85 938.51,366.14 945.25,365.23 951.27,370.15 958.2,364.14 964.94,362.31 971.68,354.29 978.25,357.94 984.63,361.4 991.74,369.79 998.12,368.33 1005.04,357.39 1011.79,357.39 1017.8,361.04 1024.73,376.53 1031.11,380.73 1038.22,388.02 1044.78,390.75 1051.16,379.27 1057.9,377.44 1064.65,371.43 1071.21,373.43 1077.41,377.44 1084.33,390.57 1090.94,375.62 1097.68,383.82 1104.24,387.11 1110.62,390.2 1117.73,395.67 1124.29,400.23 1131.04,402.6 1137.97,400.23 1143.8,395.31 1150.73,378.72 1157.47,382 1164.21,371.98 1171.14,368.88 1177.52,363.59 1183.9,363.23 1190.65,353.38 1197.57,354.66 1204.5,363.77 1210.88,363.04 1217.08,362.86 1224,385.1 1230.38,388.56 1236.76,389.11 1243.51,386.56 1250.43,392.39 1257.36,400.78 1263.74,401.51 1270.12,398.04 1276.86,400.59 1283.61,400.41 1290.54,375.62 1296.92,373.25 1303.66,376.53 1310.04,377.99 1316.97,375.26 1323.71,371.43 1330.27,368.33 1336.65,363.77 1343.4,371.98 1350.14,367.05"/>
<line x1="12" y1="447.1" x2="1449" y2="447.1" stroke="#787B86" stroke-width="1.05" stroke-dasharray="4.8 5.22" stroke-dashoffset="0.3"/>
<line x1="12" y1="486.7" x2="1449" y2="486.7" stroke="#787B86" stroke-width="1.05" stroke-dasharray="4.8 5.22" stroke-dashoffset="0.3"/>
<line x1="12" y1="525.6" x2="1449" y2="525.6" stroke="#787B86" stroke-width="1.05" stroke-dasharray="4.8 5.22" stroke-dashoffset="0.3"/>
<polyline fill="none" stroke="#7E57C2" stroke-width="1.25" stroke-linejoin="round" points="12,522.42 15.93,518.97 22.17,517.25 29.06,519.4 35.51,521.77 41.54,523.92 48.43,506.27 55.53,517.47 61.99,518.33 68.23,520.27 74.9,508.86 81.79,507.35 88.25,504.98 94.71,506.27 101.59,516.18 108.05,517.47 115.15,511.66 120.96,510.79 128.07,533.61 134.52,526.51 141.41,525 148.08,498.74 153.9,494.22 161,486.9 167.89,500.25 174.77,502.62 181.45,494.22 187.26,503.48 194.36,511.01 201.25,516.82 207.71,505.41 214.59,501.32 220.62,499.17 227.51,491.21 234.61,494.44 241.07,499.17 248.17,506.27 253.98,529.31 260.87,531.24 267.54,499.82 274.43,495.94 280.33,485.18 287.22,488.41 294.11,493.79 300.78,502.83 307.67,481.74 313.69,479.37 320.15,484.11 327.04,465.38 334.14,471.84 341.03,466.24 347.06,473.99 353.94,487.33 360.4,487.76 367.29,471.62 374.39,477.43 380.2,475.93 387.31,465.81 393.76,463.01 400.65,462.15 407.32,458.49 413.78,464.3 420.24,472.91 427.12,473.56 433.58,473.34 440.04,473.34 446.93,469.25 453.6,461.72 460.49,463.87 466.94,466.02 473.4,472.27 479.86,473.34 486.75,468.61 493.42,460.43 500.31,471.62 506.76,461.07 513.22,451.39 519.68,450.74 526.78,462.15 533.67,457.63 540.12,464.73 546.46,472.27 553.34,484.11 560.02,484.32 566.9,471.19 573.36,467.96 579.82,464.73 586.28,466.46 593.16,480.88 599.19,480.23 606.29,472.91 612.75,467.1 619.64,467.1 626.1,458.28 632.55,447.94 639.01,447.94 645.9,439.55 653,440.41 659.46,436.75 665.91,431.37 672.37,426.42 679.26,425.99 686.36,443.21 692.82,439.98 699.28,436.97 705.73,434.82 712.62,432.66 719.29,432.88 726.18,435.25 732.21,447.51 739.1,445.36 745.98,439.98 752.66,449.02 758.47,445.36 765.36,464.09 772.03,455.05 778.92,471.19 785.8,487.98 791.83,490.56 798.29,488.84 805.82,480.88 812.28,476.57 819.04,471.19 825.5,449.02 831.95,442.56 838.63,442.78 845.51,456.12 851.97,459.78 858.43,464.09 865.53,462.8 871.99,462.15 878.88,462.37 885.33,456.12 891.36,467.1 898.25,461.29 905.14,464.95 912.24,456.55 918.05,462.15 924.72,454.62 931.61,460.43 938.5,475.07 945.17,473.77 951.41,474.63 958.08,472.27 964.97,462.58 971.86,453.54 978.53,450.74 984.77,463.66 991.45,470.76 998.33,472.91 1005.22,465.16 1011.68,464.09 1017.71,474.42 1024.81,500.25 1031.27,498.31 1038.15,499.82 1045.04,500.25 1051.07,487.33 1057.96,489.06 1065.06,478.29 1071.52,474.85 1077.54,481.31 1084.43,510.36 1091.19,507.14 1097.86,516.39 1104.32,520.7 1110.78,523.92 1117.24,523.49 1124.55,529.52 1131.23,521.13 1138.11,511.44 1143.93,507.78 1150.6,508.21 1157.49,511.44 1164.37,504.12 1171.05,507.14 1177.5,500.89 1183.96,499.17 1190.85,489.92 1197.52,484.75 1204.41,494.65 1210.65,489.27 1217.11,489.06 1223.78,526.08 1230.24,526.72 1236.69,528.87 1243.58,517.47 1250.47,522.85 1257.14,527.8 1264.03,523.92 1270.49,525.43 1276.94,525.65 1283.4,524.79 1290.29,524.14 1297.39,518.33 1303.85,525.43 1310.31,516.39 1317.19,520.05 1323.87,520.7 1330.32,507.78 1336.56,497.67 1343.24,512.73 1350.12,499.82"/>
</svg>
<svg width="1536" height="618" viewBox="0 0 1536 618" style="position:absolute;left:0;top:0;will-change:transform;font-family:'Liberation Sans',sans-serif">
<text x="21" y="34.1" font-size="14" fill="#262a35" textLength="111.2" lengthAdjust="spacingAndGlyphs">AUD/USD Spot, 4h</text>
<text x="142" y="34.1" font-size="14" fill="#262a35" textLength="8.2" lengthAdjust="spacingAndGlyphs" stroke="#262a35" stroke-width="0.3">O</text>
<text x="151" y="34.1" font-size="14" fill="#089981" textLength="47.2" lengthAdjust="spacingAndGlyphs">0.66497</text>
<text x="207.7" y="34.1" font-size="14" fill="#262a35" textLength="7.8" lengthAdjust="spacingAndGlyphs" stroke="#262a35" stroke-width="0.3">H</text>
<text x="216.2" y="34.1" font-size="14" fill="#089981" textLength="47.6" lengthAdjust="spacingAndGlyphs">0.66625</text>
<text x="274" y="34.1" font-size="14" fill="#262a35" textLength="5.8" lengthAdjust="spacingAndGlyphs" stroke="#262a35" stroke-width="0.3">L</text>
<text x="280.3" y="34.1" font-size="14" fill="#089981" textLength="46.9" lengthAdjust="spacingAndGlyphs">0.66475</text>
<text x="337" y="34.1" font-size="14" fill="#262a35" textLength="7.6" lengthAdjust="spacingAndGlyphs" stroke="#262a35" stroke-width="0.3">C</text>
<text x="345.1" y="34.1" font-size="14" fill="#089981" textLength="46.9" lengthAdjust="spacingAndGlyphs">0.66623</text>
<text x="402.2" y="34.1" font-size="14" fill="#089981" textLength="54.1" lengthAdjust="spacingAndGlyphs">+0.00126</text>
<text x="462.3" y="34.1" font-size="14" fill="#089981" textLength="50.4" lengthAdjust="spacingAndGlyphs">(+0.19%)</text>
<text x="21" y="53.5" font-size="14" fill="#262a35" textLength="102.7" lengthAdjust="spacingAndGlyphs">MA (20, close, 0)</text>
<text x="21" y="73" font-size="14" fill="#262a35" textLength="110.4" lengthAdjust="spacingAndGlyphs">MA (100, close, 0)</text>
<text x="21" y="92.5" font-size="14" fill="#262a35" textLength="110.4" lengthAdjust="spacingAndGlyphs">MA (200, close, 0)</text>
<text x="21" y="331.9" font-size="14" fill="#262a35" textLength="97.1" lengthAdjust="spacingAndGlyphs">Mom (10, close)</text>
<text x="127.6" y="331.9" font-size="14" fill="#2196F3" textLength="47.8" lengthAdjust="spacingAndGlyphs">0.00038</text>
<text x="21.5" y="435.2" font-size="14" fill="#262a35" textLength="45.9" lengthAdjust="spacingAndGlyphs">RSI (14)</text>
<text x="76.8" y="435.2" font-size="14" fill="#7E57C2" textLength="33" lengthAdjust="spacingAndGlyphs">42.92</text>
<text x="1458" y="59.4" font-size="14" fill="#2e323d" textLength="48.4" lengthAdjust="spacingAndGlyphs">0.68000</text>
<text x="1458" y="109.5" font-size="14" fill="#2e323d" textLength="48.4" lengthAdjust="spacingAndGlyphs">0.67000</text>
<text x="1458" y="160.3" font-size="14" fill="#2e323d" textLength="48.4" lengthAdjust="spacingAndGlyphs">0.66000</text>
<text x="1458" y="211.1" font-size="14" fill="#2e323d" textLength="48.4" lengthAdjust="spacingAndGlyphs">0.65000</text>
<text x="1458" y="262" font-size="14" fill="#2e323d" textLength="48.4" lengthAdjust="spacingAndGlyphs">0.64000</text>
<text x="1458" y="332.3" font-size="14" fill="#2e323d" textLength="48.4" lengthAdjust="spacingAndGlyphs">0.01000</text>
<text x="1458" y="431.5" font-size="14" fill="#2e323d" textLength="34.2" lengthAdjust="spacingAndGlyphs">80.00</text>
<text x="1458" y="471" font-size="14" fill="#2e323d" textLength="34.2" lengthAdjust="spacingAndGlyphs">60.00</text>
<text x="1458" y="510" font-size="14" fill="#2e323d" textLength="34.2" lengthAdjust="spacingAndGlyphs">40.00</text>
<clipPath id="cm"><rect x="1449" y="309" width="80" height="102.5"/></clipPath>
<g clip-path="url(#cm)">
<text x="1458" y="416" font-size="14" fill="#2e323d" textLength="55" lengthAdjust="spacingAndGlyphs">−0.01000</text>
</g>
<path d="M1449 114.5H1510.8Q1512.8 114.5 1512.8 116.5V131.7Q1512.8 133.7 1510.8 133.7H1449Z" fill="#089981"/>
<text x="1458" y="129" font-size="14" fill="#fff" textLength="48" lengthAdjust="spacingAndGlyphs" stroke="#fff" stroke-width="0.45">0.66623</text>
<path d="M1449 357.9H1510.8Q1512.8 357.9 1512.8 359.9V374.9Q1512.8 376.9 1510.8 376.9H1449Z" fill="#2196F3"/>
<text x="1458" y="372.3" font-size="14" fill="#fff" textLength="48" lengthAdjust="spacingAndGlyphs" stroke="#fff" stroke-width="0.45">0.00038</text>
<path d="M1449 490.8H1496.5Q1498.5 490.8 1498.5 492.8V507.8Q1498.5 509.8 1496.5 509.8H1449Z" fill="#7E57C2"/>
<text x="1458" y="505.2" font-size="14" fill="#fff" textLength="33.6" lengthAdjust="spacingAndGlyphs" stroke="#fff" stroke-width="0.45">42.92</text>
<text x="156.97" y="566.7" font-size="14" fill="#262a35" textLength="23.4" lengthAdjust="spacingAndGlyphs" font-weight="bold">Aug</text>
<text x="284.91" y="566.7" font-size="14" fill="#2e323d" textLength="6.5" lengthAdjust="spacingAndGlyphs">6</text>
<text x="404.39" y="566.7" font-size="14" fill="#2e323d" textLength="6.5" lengthAdjust="spacingAndGlyphs">9</text>
<text x="520.48" y="566.7" font-size="14" fill="#2e323d" textLength="13.3" lengthAdjust="spacingAndGlyphs">14</text>
<text x="639.96" y="566.7" font-size="14" fill="#2e323d" textLength="13.3" lengthAdjust="spacingAndGlyphs">19</text>
<text x="759.44" y="566.7" font-size="14" fill="#2e323d" textLength="13.3" lengthAdjust="spacingAndGlyphs">22</text>
<text x="878.93" y="566.7" font-size="14" fill="#2e323d" textLength="13.3" lengthAdjust="spacingAndGlyphs">27</text>
<text x="1033.64" y="566.7" font-size="14" fill="#262a35" textLength="22.5" lengthAdjust="spacingAndGlyphs" font-weight="bold">Sep</text>
<text x="1161.12" y="566.7" font-size="14" fill="#2e323d" textLength="6.5" lengthAdjust="spacingAndGlyphs">5</text>
<text x="1277.21" y="566.7" font-size="14" fill="#2e323d" textLength="13.3" lengthAdjust="spacingAndGlyphs">10</text>
<text x="1396.69" y="566.7" font-size="14" fill="#2e323d" textLength="13.3" lengthAdjust="spacingAndGlyphs">13</text>
<g transform="translate(12.1,590) scale(0.622)" fill="#131722"><path d="M14 22H7V11H0V4h14v18zM28 22h-8l7.5-18h8L28 22z"/><circle cx="20" cy="8" r="4"/></g>
<text x="39" y="603.8" font-size="14.8" fill="#2a2e39" textLength="79.8" lengthAdjust="spacingAndGlyphs">TradingView</text>
</svg>
</body></html>
